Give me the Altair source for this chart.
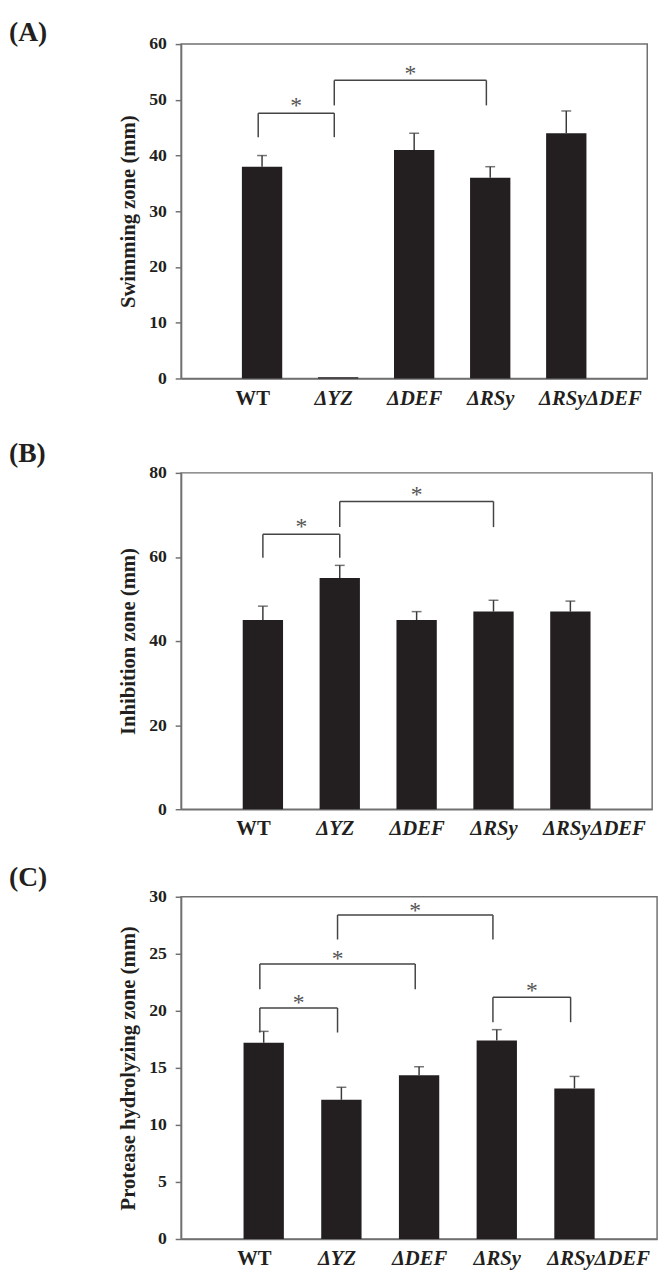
import json
import altair as alt
import pandas as pd

# ---------------- data ----------------
strains = ["WT", "ΔYZ", "ΔDEF", "ΔRSy", "ΔRSyΔDEF"]
positions = [1, 2, 3, 4, 5]
panel_letters = ["(A)", "(B)", "(C)"]
y_titles = ["Swimming zone (mm)", "Inhibition zone (mm)", "Protease hydrolyzing zone (mm)"]

swim_mean = [38, 0.2, 41, 36, 44]
swim_err = [2, 0, 3, 2, 4]
inhib_mean = [45, 55, 45, 47, 47]
inhib_err = [3.3, 3.0, 2.0, 2.7, 2.5]
prot_mean = [17.2, 12.2, 14.35, 17.4, 13.2]
prot_err = [1.0, 1.1, 0.75, 0.95, 1.05]

# significance brackets: left strain pos, right strain pos, bracket top, leg bottom, star level
swim_br_g1 = [1, 2]
swim_br_g2 = [2, 4]
swim_br_top = [47.6, 53.5]
swim_br_bottom = [43.3, 49.0]
swim_br_star = [49.6, 55.3]

inhib_br_g1 = [1, 2]
inhib_br_g2 = [2, 4]
inhib_br_top = [65.4, 73.2]
inhib_br_bottom = [59.8, 67.1]
inhib_br_star = [68.0, 75.6]

prot_br_g1 = [1, 1, 2, 4]
prot_br_g2 = [2, 3, 4, 5]
prot_br_top = [20.25, 24.1, 28.4, 21.2]
prot_br_bottom = [18.1, 21.9, 26.25, 19.0]
prot_br_star = [21.0, 24.9, 29.1, 22.1]

y_max = [60, 80, 30]
y_step = [10, 20, 5]

# ---------------- style ----------------
FONT = "Liberation Serif"
INK = "#231f20"
GRAY = "#707070"


def make_panel(letter, title, means, errs, g1, g2, top, bottom, star,
               ymax, ystep, width, height, leg_shift_px, letter_y):
    df = pd.DataFrame({"pos": positions, "strain": strains, "mean": means, "err": errs})
    br = pd.DataFrame({"g1": g1, "g2": g2, "top": top, "bottom": bottom, "star": star})
    shift = leg_shift_px * 6.0 / width

    xs = alt.Scale(domain=[0, 6], nice=False, zero=False)
    ys = alt.Scale(domain=[0, ymax], nice=False)

    label_expr = json.dumps(strains, ensure_ascii=False) + "[datum.value - 1]"
    x_axis = alt.Axis(
        values=positions, labelExpr=label_expr, title=None, grid=False,
        ticks=False, tickSize=0, labelPadding=9, labelFont=FONT, labelFontSize=21,
        labelFontWeight="bold", labelColor=INK, labelOverlap=False, labelFlush=False,
        labelFontStyle={"condition": {"test": "datum.value == 1", "value": "normal"}, "value": "italic"},
        labelOffset={"condition": [
            {"test": "datum.value == 1", "value": -10},
            {"test": "datum.value == 2", "value": -5},
            {"test": "datum.value == 5", "value": 24}], "value": 0},
        domainColor=GRAY, domainWidth=1.5,
    )
    y_axis = alt.Axis(
        values=list(range(0, ymax + 1, ystep)), title=title, grid=False,
        titleFont=FONT, titleFontSize=21, titleFontWeight="bold", titleColor=INK,
        titleAngle=270, titleX=-47, titleY=height / 2, titleAlign="center",
        titleBaseline="alphabetic",
        labelFont=FONT, labelFontSize=18, labelFontWeight="bold", labelColor=INK,
        labelPadding=9, tickSize=6, tickColor=GRAY, tickWidth=1.5,
        domainColor=GRAY, domainWidth=1.5,
    )

    def X(f):
        return alt.X(f, scale=xs, axis=x_axis, title=None)

    def Y(f):
        return alt.Y(f, scale=ys, axis=y_axis, title=title)

    base = alt.Chart(df)
    bars = base.mark_bar(color=INK, size=41, orient="vertical").encode(
        x=X("pos:Q"), y=Y("mean:Q"),
    )
    errd = base.transform_filter("datum.err > 0").transform_calculate(hi="datum.mean + datum.err")
    stems = errd.mark_rule(color="#3a3a3a", strokeWidth=1.5).encode(
        x=X("pos:Q"), y=Y("mean:Q"), y2="hi:Q",
    )
    caps = errd.mark_tick(color="#3a3a3a", size=10, thickness=1.5, orient="horizontal").encode(
        x=X("pos:Q"), y=Y("hi:Q"),
    )

    bb = alt.Chart(br).transform_calculate(
        x1=f"datum.g1 + {shift}", x2=f"datum.g2 + {shift}",
        xm=f"(datum.g1 + datum.g2) / 2 + {shift}",
    )
    hline = bb.mark_rule(color="#444444", strokeWidth=1.5).encode(
        x=X("x1:Q"), x2="x2:Q", y=Y("top:Q"),
    )
    leg_l = bb.mark_rule(color="#444444", strokeWidth=1.5).encode(
        x=X("x1:Q"), y=Y("bottom:Q"), y2="top:Q",
    )
    leg_r = bb.mark_rule(color="#444444", strokeWidth=1.5).encode(
        x=X("x2:Q"), y=Y("bottom:Q"), y2="top:Q",
    )
    stars = bb.transform_calculate(s="'*'").mark_text(
        font=FONT, fontSize=24, color="#555555", baseline="alphabetic", dy=11
    ).encode(
        x=X("xm:Q"), y=Y("star:Q"), text="s:N",
    )

    lab = alt.Chart(pd.DataFrame({"t": [letter]})).mark_text(
        font=FONT, fontSize=28, fontWeight="bold", color=INK, align="left", baseline="top"
    ).encode(x=alt.value(-175), y=alt.value(letter_y), text="t:N")

    return alt.layer(bars, stems, caps, hline, leg_l, leg_r, stars, lab).properties(
        width=width, height=height
    )


pA = make_panel(panel_letters[0], y_titles[0], swim_mean, swim_err,
                swim_br_g1, swim_br_g2, swim_br_top, swim_br_bottom, swim_br_star,
                y_max[0], y_step[0], 474, 340, -4, -25)
pB = make_panel(panel_letters[1], y_titles[1], inhib_mean, inhib_err,
                inhib_br_g1, inhib_br_g2, inhib_br_top, inhib_br_bottom, inhib_br_star,
                y_max[1], y_step[1], 479, 342, 0, -33)
pC = make_panel(panel_letters[2], y_titles[2], prot_mean, prot_err,
                prot_br_g1, prot_br_g2, prot_br_top, prot_br_bottom, prot_br_star,
                y_max[2], y_step[2], 484, 348, -4, -33)

chart = alt.vconcat(
    pA, alt.vconcat(pB, pC, spacing=24), spacing=31
).properties(
    padding={"left": 0, "top": 0, "right": 4, "bottom": 0}, background="white"
).configure_view(stroke=GRAY, strokeWidth=1.5)

chart.save("out.html", embed_options={"renderer": "svg", "actions": False})
